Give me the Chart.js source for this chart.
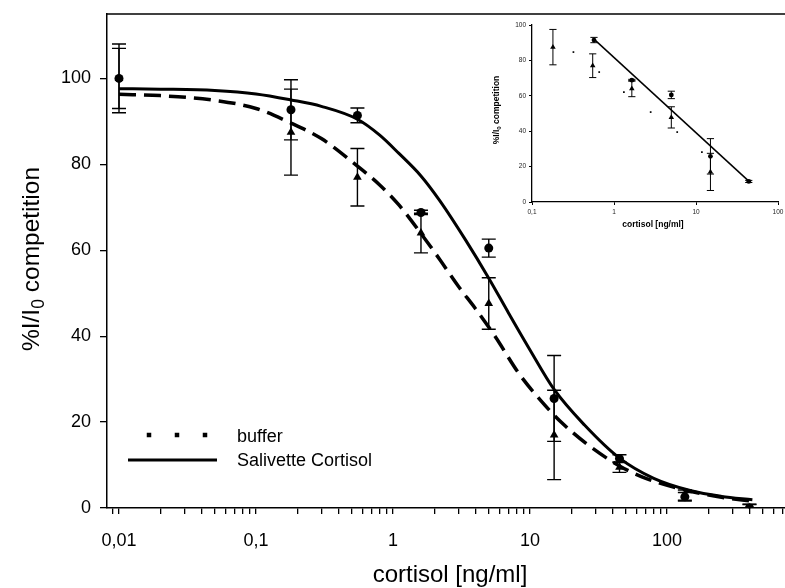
<!DOCTYPE html>
<html><head><meta charset="utf-8">
<script src="https://cdn.jsdelivr.net/npm/chart.js@4.4.0/dist/chart.umd.min.js"></script>
<style>
html,body{margin:0;padding:0;background:#fff;}
#wrap{position:relative;width:785px;height:588px;overflow:hidden;}
#main{position:absolute;left:0;top:0;}
#inset{position:absolute;left:480px;top:14px;}
</style></head><body>
<div id="wrap">
<canvas id="main" width="785" height="588" style="width:785px;height:588px"></canvas>
<canvas id="inset" width="305" height="240" style="width:305px;height:240px"></canvas>
</div>
<script>
// ---------- main chart data ----------
const concentrations = [0.01, 0.18, 0.55, 1.6, 5, 15, 45, 135, 400];
const bufferMean    = [100, 87.5, 77, 64, 47.6, 17, 9.5, 3, 0];
const bufferErr     = [7, 10, 6.7, 4.6, 6, 10.4, 1.2, 1.2, 0.8];
const salivetteMean = [100, 92.7, 91.4, 68.8, 60.5, 25.5, 11.5, 2.6, 0];
const salivetteErr  = [8, 7, 1.7, 0.5, 2.1, 10, 0.9, 1.0, 0.9];

// fitted curves
const bufferFitConc  = [0.01, 0.02, 0.05, 0.1, 0.18, 0.3, 0.55, 0.8, 1.1, 1.6, 2.2, 3, 4, 5.6, 8.3, 12, 17, 27, 45, 70, 120, 250, 420];
const bufferFitValue = [96.3, 96.0, 94.9, 93.0, 89.6, 86.0, 79.6, 75.2, 70.6, 63.9, 57.8, 51.6, 46.4, 39.8, 31.3, 25.0, 19.9, 14.5, 9.8, 6.9, 4.6, 2.5, 1.6];
const salivetteFitConc  = [0.01, 0.02, 0.05, 0.1, 0.18, 0.3, 0.55, 0.8, 1.1, 1.6, 2.2, 3.4, 5, 7, 10, 15, 25, 45, 80, 150, 250, 420];
const salivetteFitValue = [97.6, 97.5, 97.2, 96.4, 95.0, 93.5, 90.5, 86.8, 82.6, 77.3, 71.5, 62.3, 53.5, 45.3, 36.8, 27.6, 19.3, 11.6, 6.9, 4.0, 2.7, 1.9];

const xTickValues = [0.01, 0.1, 1, 10, 100];
const xTickLabels = ['0,01', '0,1', '1', '10', '100'];
const yTickValues = [0, 20, 40, 60, 80, 100];

const xTitle = 'cortisol [ng/ml]';
const yTitlePre = '%I/I', yTitleSub = '0', yTitlePost = ' competition';
const legendLabels = ['buffer', 'Salivette Cortisol'];

// ---------- inset data ----------
const insetBufferConc = [0.18, 0.55, 1.65, 5, 15];
const insetBufferMean = [87.5, 77, 64, 47.8, 17];
const insetBufferErr  = [10, 6.7, 4.5, 6, 10.5];
const insetSalivetteConc = [0.57, 1.65, 5, 15, 44];
const insetSalivetteMean = [91.5, 68.8, 60.5, 25.8, 11.6];
const insetSalivetteErr  = [1.5, 0.5, 2.1, 10, 0.6];
const insetSalivetteLineConc  = [0.57, 44];
const insetSalivetteLineValue = [92, 11.8];
const insetBufferDotsConc  = [0.32, 0.66, 1.32, 2.8, 5.9, 11.8];
const insetBufferDotsValue = [84.7, 73.4, 62.1, 50.8, 39.5, 28.2];
const insetXTickValues = [0.1, 1, 10, 100];
const insetXTickLabels = ['0,1', '1', '10', '100'];
const insetYTickValues = [0, 20, 40, 60, 80, 100];

// ---------- helpers ----------
const FONT = '"Liberation Sans", Arial, Helvetica, sans-serif';
const pts = (xs, ys) => xs.map((x, i) => ({x: x, y: ys[i]}));
function logTicks(min, max) {
  const out = [];
  for (let k = Math.floor(Math.log10(min)); k <= Math.ceil(Math.log10(max)); k++) {
    for (let m = 1; m <= 9; m++) {
      const v = parseFloat((m * Math.pow(10, k)).toPrecision(6));
      if (v >= min && v <= max) out.push(v);
    }
  }
  return out;
}
function labelFor(values, labels, v) {
  for (let i = 0; i < values.length; i++) if (Math.abs(v - values[i]) / values[i] < 1e-6) return labels[i];
  return '';
}
function drawErrorBars(chart, lw, half) {
  const ctx = chart.ctx, a = chart.chartArea;
  const xs = chart.scales.x, ys = chart.scales.y;
  ctx.save();
  ctx.beginPath(); ctx.rect(a.left - half - 2, a.top, a.right - a.left + 2 * half + 4, a.bottom - a.top + 1); ctx.clip();
  ctx.strokeStyle = '#000'; ctx.lineWidth = lw;
  chart.data.datasets.forEach(ds => {
    if (!ds.errors) return;
    ds.data.forEach((p, i) => {
      const e = ds.errors[i];
      const x = xs.getPixelForValue(p.x);
      const y1 = ys.getPixelForValue(p.y - e), y2 = ys.getPixelForValue(p.y + e);
      ctx.beginPath();
      ctx.moveTo(x, y1); ctx.lineTo(x, y2);
      ctx.moveTo(x - half, y1); ctx.lineTo(x + half, y1);
      ctx.moveTo(x - half, y2); ctx.lineTo(x + half, y2);
      ctx.stroke();
    });
  });
  ctx.restore();
}
function drawRotatedSub(ctx, cx, cy, pre, sub, post, size, weight) {
  ctx.save();
  ctx.translate(cx, cy); ctx.rotate(-Math.PI / 2);
  const f = weight + ' ' + size + 'px ' + FONT;
  const fs = weight + ' ' + (size * 0.72).toFixed(2) + 'px ' + FONT;
  ctx.font = f; const w1 = ctx.measureText(pre).width; const w3 = ctx.measureText(post).width;
  ctx.font = fs; const w2 = ctx.measureText(sub).width;
  let x = -(w1 + w2 + w3) / 2;
  const base = size * 0.36;
  ctx.fillStyle = '#000'; ctx.textAlign = 'left'; ctx.textBaseline = 'alphabetic';
  ctx.font = f; ctx.fillText(pre, x, base); x += w1;
  ctx.font = fs; ctx.fillText(sub, x, base + size * 0.22); x += w2;
  ctx.font = f; ctx.fillText(post, x, base);
  ctx.restore();
}

Chart.defaults.font.family = FONT;
Chart.defaults.color = '#000';

// ---------- main chart ----------
const mainXMin = Math.pow(10, -2 - 12 / 137);
const mainXMax = Math.pow(10, -2 - 12 / 137 + 678 / 137);

const mainDecor = {
  id: 'mainDecor',
  beforeDatasetsDraw(chart) { drawErrorBars(chart, 1.4, 7); },
  afterDraw(chart) {
    const ctx = chart.ctx, a = chart.chartArea;
    ctx.save();
    ctx.strokeStyle = '#000'; ctx.lineWidth = 1.5;
    ctx.beginPath(); ctx.moveTo(a.left, a.top); ctx.lineTo(785, a.top); ctx.stroke();
    ctx.fillStyle = '#000';
    ctx.font = '24px ' + FONT; ctx.textAlign = 'center'; ctx.textBaseline = 'middle';
    ctx.fillText(xTitle, 450, 575);
    drawRotatedSub(ctx, 30, 259, yTitlePre, yTitleSub, yTitlePost, 24.5, '');
    // legend
    ctx.lineWidth = 4.5; ctx.setLineDash([4.5, 23.5]);
    ctx.beginPath(); ctx.moveTo(146.75, 435); ctx.lineTo(210, 435); ctx.stroke();
    ctx.setLineDash([]); ctx.lineWidth = 3;
    ctx.beginPath(); ctx.moveTo(128, 460); ctx.lineTo(217, 460); ctx.stroke();
    ctx.font = '18px ' + FONT; ctx.textAlign = 'left'; ctx.textBaseline = 'middle';
    ctx.fillText(legendLabels[0], 237, 437);
    ctx.fillText(legendLabels[1], 237, 461);
    ctx.restore();
  }
};

new Chart(document.getElementById('main'), {
  type: 'scatter',
  data: {
    datasets: [
      {label: 'Salivette Cortisol', data: pts(concentrations, salivetteMean), errors: salivetteErr,
       pointStyle: 'circle', pointRadius: 4.5, backgroundColor: '#000', borderColor: '#000', borderWidth: 0, order: 0},
      {label: 'buffer', data: pts(concentrations, bufferMean), errors: bufferErr,
       pointStyle: 'triangle', pointRadius: 5, backgroundColor: '#000', borderColor: '#000', borderWidth: 0, order: 1},
      {label: 'Salivette fit', data: pts(salivetteFitConc, salivetteFitValue), showLine: true, pointRadius: 0,
       borderColor: '#000', borderWidth: 3, cubicInterpolationMode: 'monotone', fill: false, order: 2},
      {label: 'buffer fit', data: pts(bufferFitConc, bufferFitValue), showLine: true, pointRadius: 0,
       borderColor: '#000', borderWidth: 3.5, borderDash: [17, 8], cubicInterpolationMode: 'monotone', fill: false, order: 3}
    ]
  },
  options: {
    responsive: false, animation: false, devicePixelRatio: 1,
    layout: {autoPadding: false, padding: {top: 14, right: 0, left: 0, bottom: 0}},
    plugins: {legend: {display: false}, tooltip: {enabled: false}},
    scales: {
      x: {
        type: 'logarithmic', min: mainXMin, max: mainXMax,
        afterBuildTicks: s => { s.ticks = logTicks(mainXMin, mainXMax).map(v => ({value: v})); },
        ticks: {autoSkip: false, maxRotation: 0, padding: 16, font: {size: 18, family: FONT}, color: '#000',
                callback: v => labelFor(xTickValues, xTickLabels, v)},
        grid: {drawOnChartArea: false, drawTicks: true, tickLength: 6, color: '#000', lineWidth: 1.3},
        border: {display: true, color: '#000', width: 1.5},
        afterFit: s => { s.height = 80; s.paddingLeft = 0; s.paddingRight = 0; }
      },
      y: {
        type: 'linear', min: 0, max: 115,
        afterBuildTicks: s => { s.ticks = yTickValues.map(v => ({value: v})); },
        ticks: {padding: 9, font: {size: 18, family: FONT}, color: '#000'},
        grid: {drawOnChartArea: false, drawTicks: true, tickLength: 7, color: '#000', lineWidth: 1.3},
        border: {display: true, color: '#000', width: 1.5},
        afterFit: s => { s.width = 107; s.paddingTop = 0; s.paddingBottom = 0; }
      }
    }
  },
  plugins: [mainDecor]
});

// ---------- inset chart ----------
const insetDecor = {
  id: 'insetDecor',
  beforeDatasetsDraw(chart) { drawErrorBars(chart, 1, 3.6); },
  afterDraw(chart) {
    const ctx = chart.ctx;
    ctx.save();
    ctx.fillStyle = '#000';
    ctx.font = 'bold 8.5px ' + FONT; ctx.textAlign = 'center'; ctx.textBaseline = 'middle';
    ctx.fillText(xTitle, 173, 211);
    drawRotatedSub(ctx, 16, 96, yTitlePre, yTitleSub, yTitlePost, 8.5, 'bold');
    ctx.restore();
  }
};

new Chart(document.getElementById('inset'), {
  type: 'scatter',
  data: {
    datasets: [
      {label: 'Salivette', data: pts(insetSalivetteConc, insetSalivetteMean), errors: insetSalivetteErr,
       pointStyle: 'circle', pointRadius: 2.4, backgroundColor: '#000', borderWidth: 0, order: 0},
      {label: 'buffer', data: pts(insetBufferConc, insetBufferMean), errors: insetBufferErr,
       pointStyle: 'triangle', pointRadius: 3.2, backgroundColor: '#000', borderWidth: 0, order: 1},
      {label: 'Salivette line', data: pts(insetSalivetteLineConc, insetSalivetteLineValue), showLine: true,
       pointRadius: 0, borderColor: '#000', borderWidth: 1.5, order: 2},
      {label: 'buffer line', data: pts(insetBufferDotsConc, insetBufferDotsValue), showLine: false,
       pointStyle: 'rect', pointRadius: 1.2, backgroundColor: '#000', borderWidth: 0, order: 3}
    ]
  },
  options: {
    responsive: false, animation: false, devicePixelRatio: 1,
    layout: {autoPadding: false, padding: {top: 11, right: 7, left: 0, bottom: 0}},
    plugins: {legend: {display: false}, tooltip: {enabled: false}},
    scales: {
      x: {
        type: 'logarithmic', min: 0.1, max: 100,
        afterBuildTicks: s => { s.ticks = insetXTickValues.map(v => ({value: v})); },
        ticks: {autoSkip: false, maxRotation: 0, padding: 3, font: {size: 6.5, family: FONT}, color: '#222',
                callback: v => labelFor(insetXTickValues, insetXTickLabels, v)},
        grid: {drawOnChartArea: false, drawTicks: true, tickLength: 3, color: '#000', lineWidth: 1},
        border: {display: true, color: '#000', width: 1.3},
        afterFit: s => { s.height = 52; s.paddingLeft = 0; s.paddingRight = 0; }
      },
      y: {
        type: 'linear', min: 0, max: 100,
        afterBuildTicks: s => { s.ticks = insetYTickValues.map(v => ({value: v})); },
        ticks: {padding: 3, font: {size: 6.5, family: FONT}, color: '#222'},
        grid: {drawOnChartArea: false, drawTicks: true, tickLength: 3, color: '#000', lineWidth: 1},
        border: {display: true, color: '#000', width: 1.3},
        afterFit: s => { s.width = 52; s.paddingTop = 0; s.paddingBottom = 0; }
      }
    }
  },
  plugins: [insetDecor]
});
</script>
</body></html>
